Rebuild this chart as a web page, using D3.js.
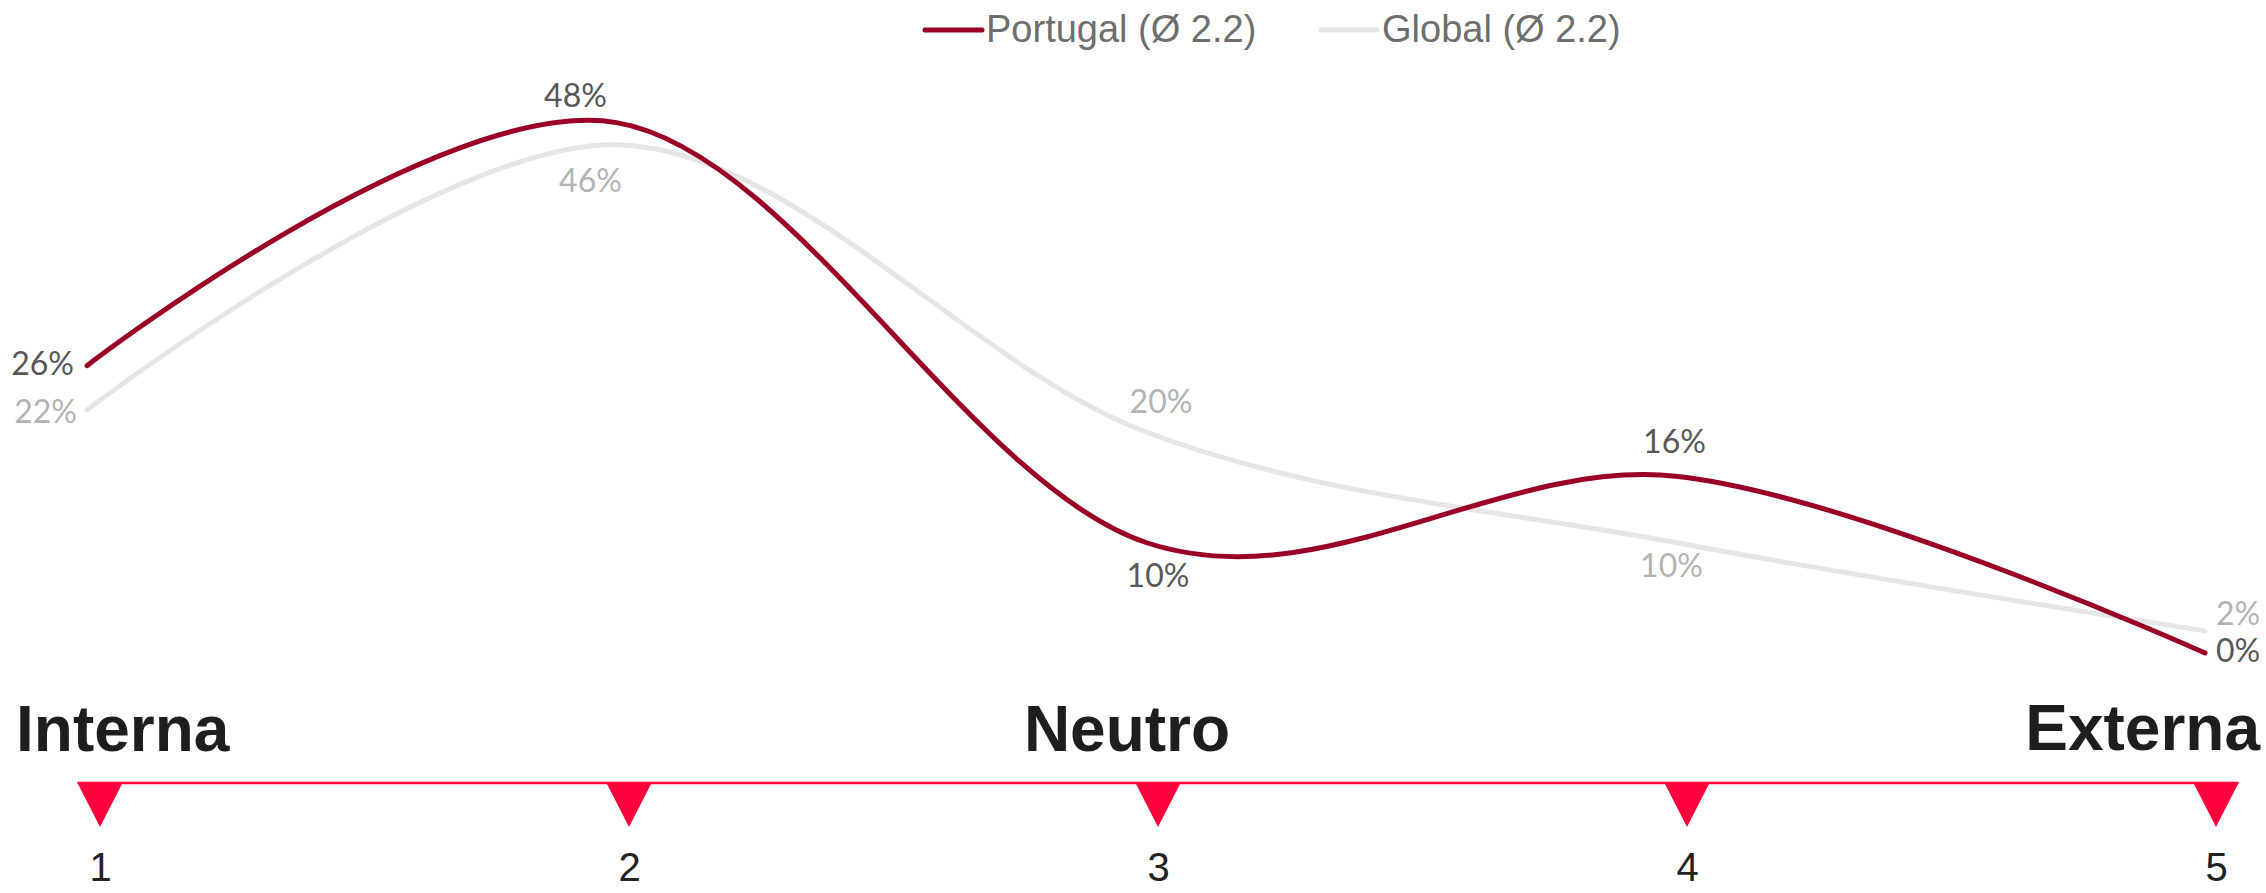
<!DOCTYPE html>
<html>
<head>
<meta charset="utf-8">
<script src="https://cdn.jsdelivr.net/npm/d3@7"></script>
<style>
  html, body { margin: 0; padding: 0; background: #ffffff; }
  svg { display: block; }
</style>
</head>
<body>
<div id="chart"></div>
<script>
// ---- data ----
const categories = [1, 2, 3, 4, 5];
const portugal = [26, 48, 10, 16, 0];
const globalVals = [22, 46, 20, 10, 2];
const seriesNames = ["Portugal (Ø 2.2)", "Global (Ø 2.2)"];
const tickLabels = ["1", "2", "3", "4", "5"];
const scaleLabels = ["Interna", "Neutro", "Externa"];

// ---- layout ----
const W = 2266, H = 893;
const svg = d3.select("#chart").append("svg")
  .attr("width", W).attr("height", H)
  .attr("viewBox", `0 0 ${W} ${H}`);

const x = d3.scalePoint().domain(categories).range([87, 2205]);
const y = d3.scaleLinear().domain([0, 48]).range([653, 122.6]);
const xAxisScale = d3.scalePoint().domain(categories).range([100, 2216]);

const series = [
  { name: seriesNames[0], values: portugal, color: "#9a0025", labelColor: "#575757",
    place: [["end", -13, 9], ["middle", -41, -16], ["middle", 12, 44], ["middle", -1, -23], ["start", 11, 9]] },
  { name: seriesNames[1], values: globalVals, color: "#e6e6e6", labelColor: "#b3b3b3",
    place: [["end", -10, 13], ["middle", -26, 47], ["middle", 15, -19], ["middle", -4, 34], ["start", 11, -6]] }
];

const line = d3.line()
  .x((d, i) => x(categories[i]))
  .y(d => y(d))
  .curve(d3.curveCardinal.tension(0));

// draw global first (behind), then Portugal
[series[1], series[0]].forEach(s => {
  svg.append("path")
    .attr("d", line(s.values))
    .attr("fill", "none")
    .attr("stroke", s.color)
    .attr("stroke-width", 5)
    .attr("stroke-linecap", "round")
    .attr("stroke-linejoin", "round");
});

// data labels
series.forEach(s => {
  svg.append("g").selectAll("text")
    .data(s.values)
    .join("text")
    .attr("x", (d, i) => x(categories[i]) + s.place[i][1])
    .attr("y", (d, i) => y(d) + s.place[i][2])
    .attr("text-anchor", (d, i) => s.place[i][0])
    .attr("font-family", "Lato, 'Noto Sans', sans-serif")
    .attr("font-size", 32)
    .attr("fill", s.labelColor)
    .text(d => d + "%");
});

// legend
const legend = svg.append("g");
const legendItems = [
  { x0: 925, x1: 982, tx: 986, s: series[0] },
  { x0: 1321, x1: 1377, tx: 1382, s: series[1] }
];
legendItems.forEach(it => {
  legend.append("line")
    .attr("x1", it.x0).attr("x2", it.x1)
    .attr("y1", 30).attr("y2", 30)
    .attr("stroke", it.s.color)
    .attr("stroke-width", 5)
    .attr("stroke-linecap", "round");
  legend.append("text")
    .attr("x", it.tx).attr("y", 42)
    .attr("font-family", "'Liberation Sans', Arial, sans-serif")
    .attr("font-size", 38)
    .attr("fill", "#6e6e6e")
    .text(it.s.name);
});

// scale labels (Interna / Neutro / Externa)
const labelFont = "'Liberation Sans', Arial, sans-serif";
svg.append("text").attr("x", 16).attr("y", 751)
  .attr("text-anchor", "start").attr("font-family", labelFont)
  .attr("font-weight", "bold").attr("font-size", 64).attr("fill", "#1e1e1e")
  .text(scaleLabels[0]);
svg.append("text").attr("x", 1127).attr("y", 751)
  .attr("text-anchor", "middle").attr("font-family", labelFont)
  .attr("font-weight", "bold").attr("font-size", 64).attr("fill", "#1e1e1e")
  .text(scaleLabels[1]);
svg.append("text").attr("x", 2260).attr("y", 750)
  .attr("text-anchor", "end").attr("font-family", labelFont)
  .attr("font-weight", "bold").attr("font-size", 64).attr("fill", "#1e1e1e")
  .text(scaleLabels[2]);

// axis
const axisY = 783;
const red = "#ff003c";
const triW = 45, triH = 44;
const axisG = svg.append("g").attr("transform", `translate(0,${axisY})`);
axisG.append("line")
  .attr("x1", xAxisScale(categories[0]) - triW / 2)
  .attr("x2", xAxisScale(categories[categories.length - 1]) + triW / 2)
  .attr("y1", 0).attr("y2", 0)
  .attr("stroke", red).attr("stroke-width", 2.5);
axisG.selectAll("path.tri")
  .data(categories)
  .join("path")
  .attr("class", "tri")
  .attr("d", d => {
    const cx = xAxisScale(d);
    return `M${cx - triW / 2},0 L${cx + triW / 2},0 L${cx},${triH} Z`;
  })
  .attr("fill", red);

const axis = d3.axisBottom(xAxisScale)
  .tickSize(0)
  .tickPadding(70)
  .tickFormat((d, i) => tickLabels[i]);
const axisTicks = svg.append("g")
  .attr("transform", `translate(0,${axisY})`)
  .call(axis);
axisTicks.select(".domain").remove();
axisTicks.selectAll("text")
  .attr("font-family", "'Liberation Sans', Arial, sans-serif")
  .attr("font-size", 40)
  .attr("fill", "#222222");
</script>
</body>
</html>
